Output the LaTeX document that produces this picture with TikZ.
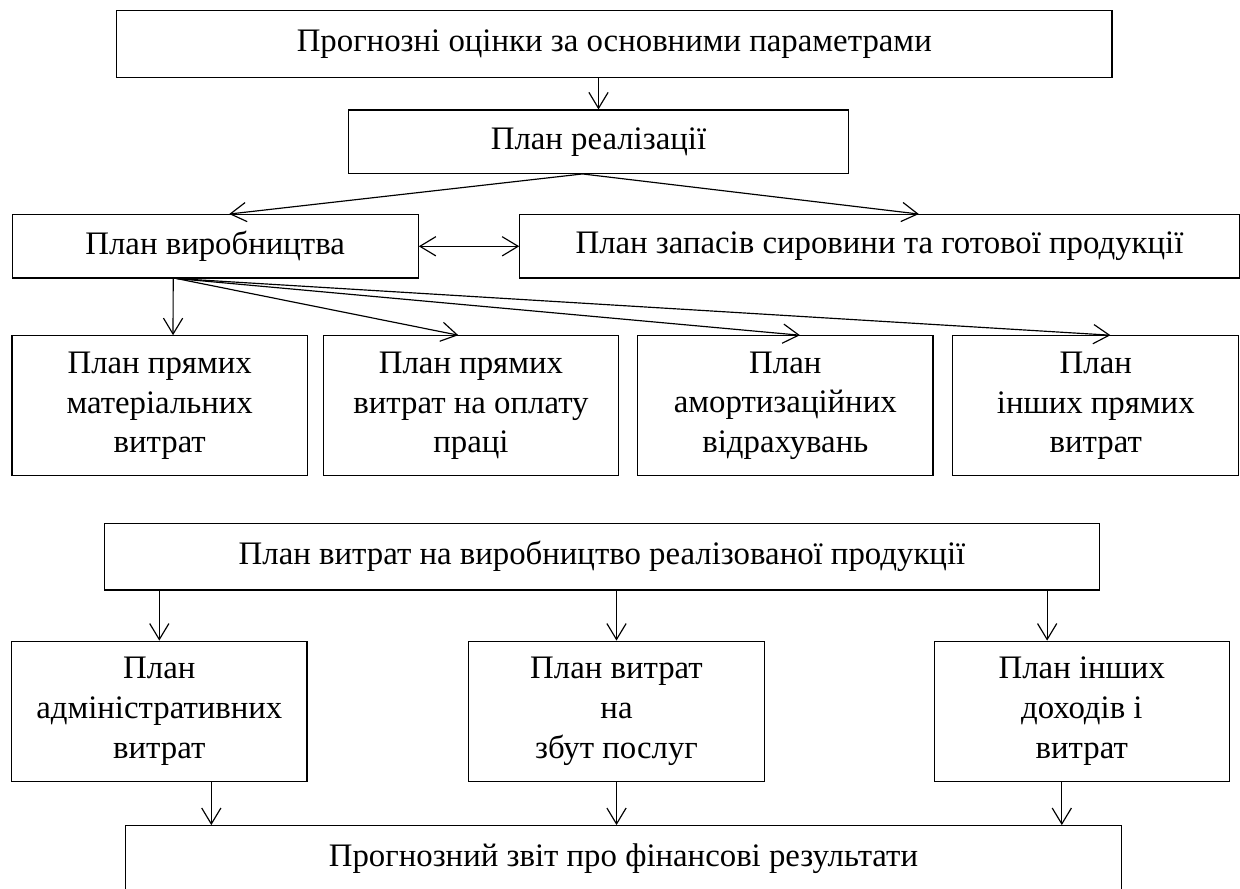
\documentclass[tikz,border=0pt]{standalone}
\usepackage{fontspec}
\setmainfont{Liberation Serif}
\usepackage{tikz}
\usetikzlibrary{arrows.meta}

\begin{document}
\begin{tikzpicture}[
    x=0.015cm, y=-0.015cm,
    >={Straight Barb[length=6.8pt,width=8.2pt]},
    plan/.style={rectangle, draw, line width=0.5pt, inner sep=0pt, align=center, font=\fontsize{14}{17}\selectfont},
    wide/.style={plan, minimum height=1cm},
    line/.style={plan, minimum height=0.95cm},
    tall/.style={plan, minimum width=4.43cm, minimum height=2.1cm},
    arrow/.style={->, line width=0.5pt}
]
    \clip (0,0) rectangle (1240,889);

    % Boxes
    \node[wide, minimum width=14.93cm] (prog) at (614.3,44) {Прогнозні оцінки за основними параметрами};
    \node[line, minimum width=7.49cm] (real) at (598.5,141.7) {План реалізації};
    \node[line, minimum width=6.09cm] (vyrob) at (215.2,246.3) {План виробництва};
    \node[line, minimum width=10.79cm] (zapas) at (879.5,246.3) {План запасів сировини та готової продукції};

    \node[tall] (mat) at (159.7,405.8) {План прямих\\матеріальних\\витрат};
    \node[tall] (opl) at (471,405.8) {План прямих\\витрат на оплату\\праці};
    \node[tall] (amort) at (785.3,405.8) {План\\амортизаційних\\відрахувань};
    \node[tall, minimum width=4.29cm] (inpr) at (1095.8,405.8) {План\\інших прямих\\витрат};

    \node[wide, minimum width=14.92cm] (vytr) at (602,556.7) {План витрат на виробництво реалізованої продукції};

    \node[tall] (adm) at (159.3,711.2) {План\\адміністративних\\витрат};
    \node[tall] (zbut) at (616.5,711.2) {План витрат\\на\\збут послуг};
    \node[tall] (indoh) at (1081.8,711.2) {План інших\\доходів і\\витрат};

    \node[wide, minimum width=14.93cm] (zvit) at (623.5,859) {Прогнозний звіт про фінансові результати};

    % Arrows
    \draw[arrow] (real.north |- prog.south) -- (real.north);
    \draw[arrow] ([xshift=-0.24cm]real.south) -- ([xshift=0.21cm]vyrob.north);
    \draw[arrow] ([xshift=-0.24cm]real.south) -- ([xshift=0.59cm]zapas.north);
    \draw[arrow, <->] (vyrob.east) -- (zapas.west);

    \draw[arrow] ([xshift=-0.63cm]vyrob.south) -- ([xshift=0.2cm]mat.north);
    \draw[arrow] ([xshift=-0.58cm]vyrob.south) -- ([xshift=-0.19cm]opl.north);
    \draw[arrow] ([xshift=-0.58cm]vyrob.south) -- ([xshift=0.22cm]amort.north);
    \draw[arrow] ([xshift=-0.58cm]vyrob.south) -- ([xshift=0.22cm]inpr.north);

    \draw[arrow] (adm.north |- vytr.south) -- (adm.north);
    \draw[arrow] (zbut.north |- vytr.south) -- (zbut.north);
    \draw[arrow] ([xshift=-0.52cm]indoh.north |- vytr.south) -- ([xshift=-0.52cm]indoh.north);

    \draw[arrow] ([xshift=0.78cm]adm.south) -- ([xshift=0.78cm]adm.south |- zvit.north);
    \draw[arrow] (zbut.south) -- (zbut.south |- zvit.north);
    \draw[arrow] ([xshift=-0.3cm]indoh.south) -- ([xshift=-0.3cm]indoh.south |- zvit.north);
\end{tikzpicture}
\end{document}
